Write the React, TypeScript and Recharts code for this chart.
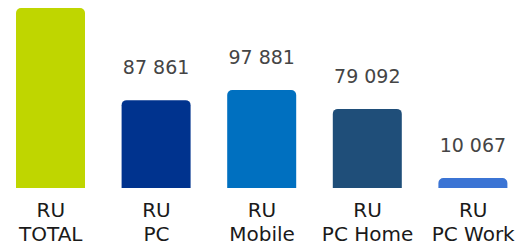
import { BarChart, Bar, XAxis, YAxis, Cell, LabelList } from 'recharts';

// categories and values
const categories = ['RU\nTOTAL', 'RU\nPC', 'RU\nMobile', 'RU\nPC Home', 'RU\nPC Work'];
const values = [180000, 87861, 97881, 79092, 10067];
const showValue = [false, true, true, true, true];
const colors = ['#bfd600', '#00338e', '#0070c0', '#1f4e79', '#3b74d4'];

const data = categories.map((name, i) => ({ name, value: values[i] }));

const font = 'DejaVu Sans, Verdana, sans-serif';

const CategoryTick = (props: any) => {
    const { x, y, payload } = props;
    const lines = String(payload.value).split('\n');
    return (
        <text x={x} y={y} textAnchor="middle" fill="#1a1a1a" fontSize={20} fontFamily={font}>
            {lines.map((line, i) => (
                <tspan key={i} x={x} y={y + 29 + i * 24}>{line}</tspan>
            ))}
        </text>
    );
};

const ValueLabel = (props: any) => {
    const { x, y, width, value, index } = props;
    if (!showValue[index]) return null;
    return (
        <text x={x + width / 2} y={y - 26} textAnchor="middle" fill="#454545" fontSize={19} fontFamily={font}>
            {value.toLocaleString('ru-RU').replace(/\s/g, ' ')}
        </text>
    );
};

const App = () => {
    return (
        <div style={{ position: 'absolute', left: 0, top: 0, background: '#fff' }}>
            <BarChart
                width={522}
                height={245}
                data={data}
                margin={{ top: 8, right: -4, left: -2, bottom: 0 }}
                barCategoryGap={0}
            >
                <XAxis
                    dataKey="name"
                    axisLine={false}
                    tickLine={false}
                    tickSize={0}
                    tickMargin={0}
                    height={57}
                    interval={0}
                    tick={<CategoryTick />}
                />
                <YAxis hide domain={[0, 180000]} />
                <Bar dataKey="value" barSize={69} radius={[5, 5, 0, 0]} isAnimationActive={false}>
                    {data.map((d, i) => (
                        <Cell key={d.name} fill={colors[i]} />
                    ))}
                    <LabelList dataKey="value" content={<ValueLabel />} />
                </Bar>
            </BarChart>
        </div>
    );
};

export default App;
